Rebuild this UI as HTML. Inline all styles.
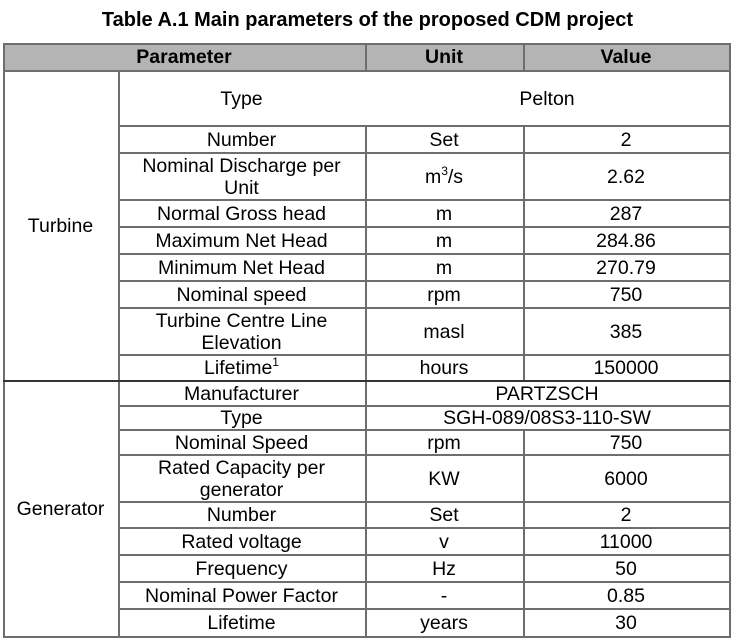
<!DOCTYPE html><html><head><style>
body{margin:0;width:735px;height:644px;background:#fff;position:relative;font-family:"Liberation Sans",Arial,sans-serif;overflow:hidden}
.h{position:absolute;height:2px;background:#6e6e6e}
.v{position:absolute;width:2px;background:#6e6e6e}
.t{position:absolute;display:flex;align-items:center;justify-content:center;text-align:center;font-size:19.5px;line-height:22px;color:#000}
sup{font-size:12px;vertical-align:8px;line-height:0}
</style></head><body>
<div style="position:absolute;left:0;width:735px;top:9px;text-align:center;font-weight:bold;font-size:20px">Table A.1 Main parameters of the proposed CDM project</div>
<div style="position:absolute;left:3px;top:44px;width:726px;height:27px;background:#b4b4b4"></div>
<div id="c"></div>
<script>
var c=document.getElementById('c'),H='';
function h(x1,x2,y,col){H+='<div class="h" style="left:'+x1+'px;width:'+(x2-x1+2)+'px;top:'+y+'px'+(col?';background:'+col:'')+'"></div>';}
function v(x,y1,y2){H+='<div class="v" style="left:'+x+'px;top:'+y1+'px;height:'+(y2-y1+2)+'px"></div>';}
function t(x1,x2,y1,y2,s,b){H+='<div class="t" style="left:'+x1+'px;width:'+(x2-x1)+'px;top:'+y1+'px;height:'+(y2-y1)+'px'+(b?';font-weight:bold':'')+'"><span>'+s+'</span></div>';}
var L=3,A=118,U=365,V=523,R=729;
h(L,R,43);h(L,R,70);
v(L,43,636);v(R,43,636);v(A,70,636);
v(U,43,70);v(V,43,70);v(U,125,636);v(V,125,380);v(V,429,636);
var ty=[70,125,152,199,226,253,280,307,354,380];
for(var i=1;i<ty.length-1;i++)h(A,R,ty[i]);
h(L,R,380,'#333');
var gy=[380,405,429,454,501,527,554,581,608,636];
for(var i=1;i<gy.length-1;i++)h(A,R,gy[i]);
h(L,R,636);
t(L,U,44,70,'Parameter',1);t(U,V,44,70,'Unit',1);t(V,R,44,70,'Value',1);
t(L,A,72,380,'Turbine');t(L,A,382,636,'Generator');
var tr=[['Type','',''],['Number','Set','2'],['Nominal Discharge per<br>Unit','m<sup>3</sup>/s','2.62'],['Normal Gross head','m','287'],['Maximum Net Head','m','284.86'],['Minimum Net Head','m','270.79'],['Nominal speed','rpm','750'],['Turbine Centre Line<br>Elevation','masl','385'],['Lifetime<sup>1</sup>','hours','150000']];
for(var i=0;i<tr.length;i++){var y1=ty[i]+2,y2=ty[i+1];t(A,U,y1,y2,tr[i][0]);if(i==0)t(U,R,y1,y2,'Pelton');else{t(U,V,y1,y2,tr[i][1]);t(V,R,y1,y2,tr[i][2]);}}
var gr=[['Manufacturer','','PARTZSCH'],['Type','','SGH-089/08S3-110-SW'],['Nominal Speed','rpm','750'],['Rated Capacity per<br>generator','KW','6000'],['Number','Set','2'],['Rated voltage','v','11000'],['Frequency','Hz','50'],['Nominal Power Factor','-','0.85'],['Lifetime','years','30']];
for(var i=0;i<gr.length;i++){var y1=gy[i]+2,y2=gy[i+1];t(A,U,y1,y2,gr[i][0]);if(i<2)t(U,R,y1,y2,gr[i][2]);else{t(U,V,y1,y2,gr[i][1]);t(V,R,y1,y2,gr[i][2]);}}
c.innerHTML=H;
</script>
</body></html>
